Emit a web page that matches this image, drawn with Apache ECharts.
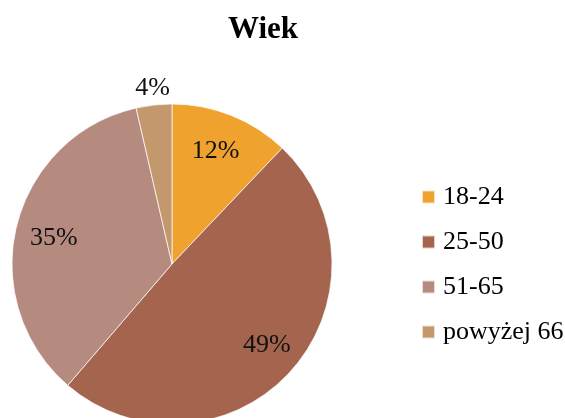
<!DOCTYPE html>
<html>
<head>
<meta charset="utf-8">
<script src="https://cdn.jsdelivr.net/npm/echarts@6/dist/echarts.min.js"></script>
<style>html,body{margin:0;padding:0;background:#fff}#c{width:565px;height:418px}</style>
</head>
<body>
<div id="c"></div>
<script>
const categories = ['18-24', '25-50', '51-65', 'powyżej 66'];
const values = [12.1, 49.2, 35.1, 3.6];
const colors = ['#F0A22E', '#A5644E', '#B58B80', '#C3986D'];
const insideLabel = [true, true, true, false];
const labelShift = [[-4, 6], [0, -5], [6, 5], [1, 4]];

const font = '"Liberation Serif", "Times New Roman", serif';
const data = categories.map((n, i) => ({ name: n, value: values[i], itemStyle: { color: colors[i] } }));
const fmt = p => Math.round(p.value) + '%';

const chart = echarts.init(document.getElementById('c'), null, { renderer: 'canvas' });
chart.setOption({
  animation: false,
  title: {
    text: 'Wiek', left: 258, top: 9, textAlign: 'center',
    textStyle: { fontFamily: font, fontSize: 31, fontWeight: 'bold', color: '#000' }
  },
  legend: {
    orient: 'vertical', left: 421, top: 184, padding: 0,
    itemWidth: 13, itemHeight: 13, itemGap: 19, icon: 'rect',
    data: categories,
    textStyle: { fontFamily: font, fontSize: 26, color: '#000', padding: [0, 0, 0, 3] }
  },
  series: [
    {
      type: 'pie', center: [172, 264], radius: [0, 160], startAngle: 90, clockwise: true,
      data: data, label: { show: false }, labelLine: { show: false },
      itemStyle: { borderColor: 'rgba(255,255,255,0.7)', borderWidth: 1 },
      emphasis: { disabled: true }
    },
    {
      type: 'pie', center: [172, 264], radius: [90, 160], startAngle: 90, clockwise: true, silent: true,
      data: categories.map((n, i) => ({ name: n, value: values[i], itemStyle: { color: 'rgba(0,0,0,0)' },
        label: { show: insideLabel[i], offset: labelShift[i] } })),
      label: { position: 'inside', formatter: fmt, fontFamily: font, fontSize: 26, color: '#111' },
      labelLine: { show: false }, legendHoverLink: false
    },
    {
      type: 'pie', center: [172, 264], radius: [160, 196], startAngle: 90, clockwise: true, silent: true,
      data: categories.map((n, i) => ({ name: n, value: values[i], itemStyle: { color: 'rgba(0,0,0,0)' },
        label: { show: !insideLabel[i], offset: labelShift[i] } })),
      label: { position: 'inside', formatter: fmt, fontFamily: font, fontSize: 26, color: '#111' },
      labelLine: { show: false }, legendHoverLink: false
    }
  ]
});
</script>
</body>
</html>
